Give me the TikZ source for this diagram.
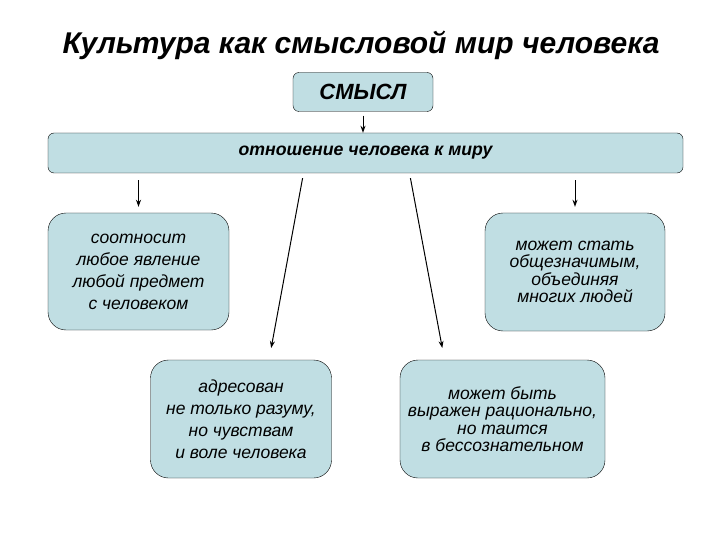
\documentclass[tikz,border=0pt]{standalone}
\usepackage{fontspec}
\setmainfont{Liberation Sans}
\usetikzlibrary{arrows.meta}
\definecolor{boxblue}{RGB}{192,222,227}

\begin{document}
\begin{tikzpicture}[
                x = 1pt, y = -1pt,
                box/.style = {draw, fill = boxblue, rounded corners = 18pt, inner sep = 0pt, align = center, font = \fontsize{17.5}{22}\selectfont\itshape},
                tight/.style = {font = \fontsize{17.5}{17.5}\selectfont\itshape},
                bar/.style = {draw, fill = boxblue, rounded corners = 6pt, inner sep = 0pt, align = center, font = \fontsize{17.7}{20}\selectfont\bfseries\itshape},
                arr/.style = {draw, line width = 1pt, -{Stealth[length = 7pt, width = 5pt]}},
            ]
            \useasboundingbox (0, 0) rectangle (720, 540);

            \node (title) at (361, 45) [font = \fontsize{30}{32}\selectfont\bfseries\itshape] {Культура как смысловой мир человека};

            \node (sense) at (363, 92) [bar, minimum width = 140pt, minimum height = 39pt, font = \fontsize{22}{24}\selectfont\bfseries\itshape] {СМЫСЛ};
            \node (rel) at (365.5, 153) [bar, minimum width = 635pt, minimum height = 40pt] {отношение человека к миру};

            \node (soot) at (138.5, 271.5) [box, minimum width = 181pt, minimum height = 117pt] {соотносит\\любое явление\\любой предмет\\с человеком};
            \node (obsh) at (575, 272) [box, tight, minimum width = 180pt, minimum height = 118pt] {может стать\\общезначимым,\\объединяя\\многих людей};
            \node (adr) at (241, 419) [box, minimum width = 181pt, minimum height = 118pt] {адресован\\не только разуму,\\но чувствам\\и воле человека};
            \node (ratio) at (502.5, 419) [box, tight, minimum width = 205pt, minimum height = 118pt] {может быть\\выражен рационально,\\но таится\\в бессознательном};

            \path[arr, shorten <= 4pt] (sense) -- (sense |- rel.north);
            \path[arr, shorten <= 7pt, shorten >= 6pt] (rel.south -| soot) -- (soot);
            \path[arr, shorten <= 7pt, shorten >= 6pt] (rel.south -| obsh) -- (obsh);
            \path[arr, shorten <= 5pt, shorten >= 12pt] ([xshift = -62pt]rel.south) -- ([xshift = 28pt]adr.north);
            \path[arr, shorten <= 5pt, shorten >= 12pt] ([xshift = 44pt]rel.south) -- ([xshift = -58pt]ratio.north);
        \end{tikzpicture}
\end{document}
